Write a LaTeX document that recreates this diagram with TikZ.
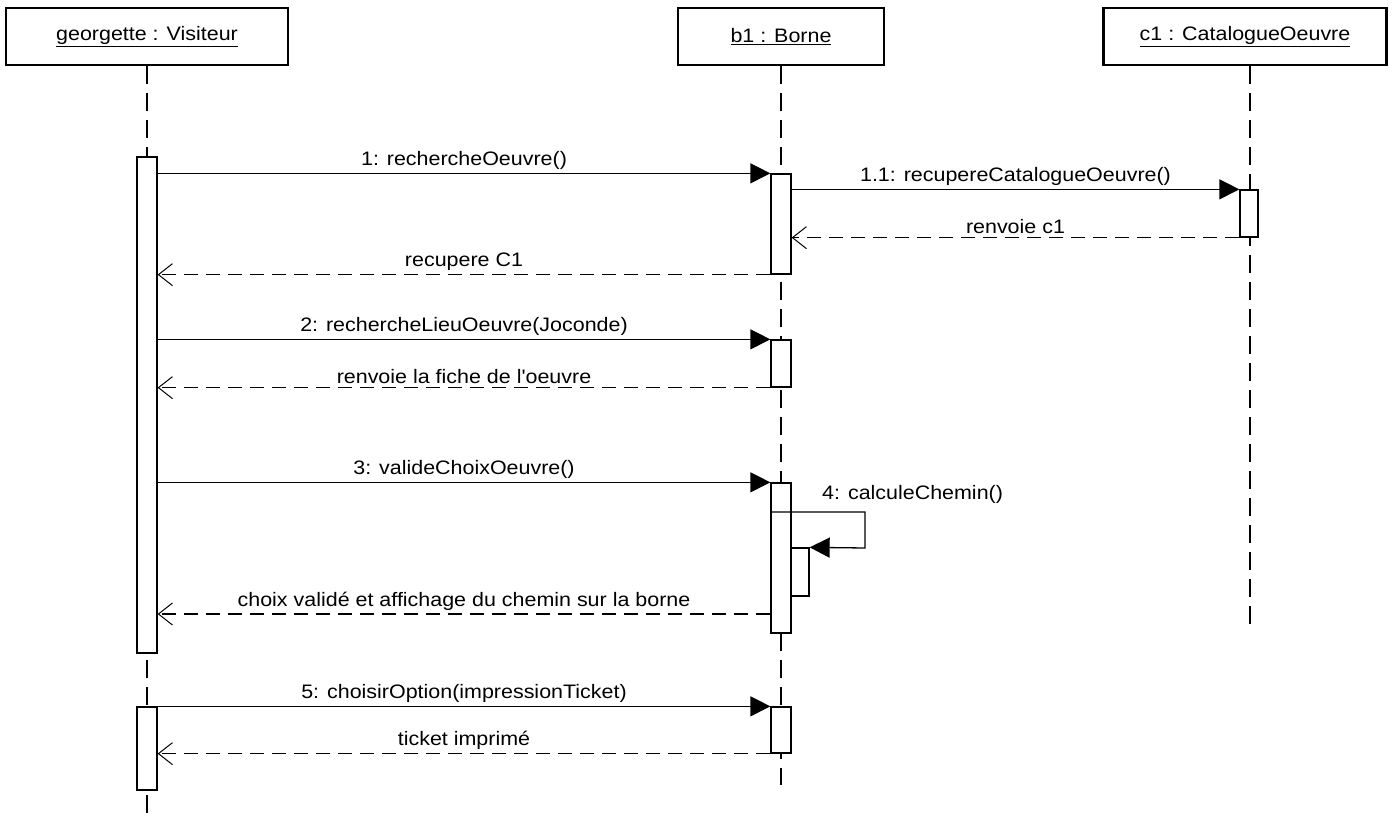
\documentclass[tikz,border=0pt]{standalone}
\usepackage{fontspec}
\newfontfamily\umlfont[FakeStretch=1.1]{Liberation Sans}
\usetikzlibrary{arrows.meta}

\begin{document}
\begin{tikzpicture}[x=1pt,y=-1pt,
        font=\umlfont\fontsize{19.5}{21}\selectfont,
        objeto/.style={draw,line width=2.8pt,minimum width=#1,minimum height=57pt,inner sep=0pt},
        vida/.style={line width=1.3pt,dash pattern=on 18pt off 9pt},
        activ/.style={draw,fill=white,line width=1.3pt,minimum width=20pt,inner sep=0pt,minimum height=#1},
        llamada/.style={line width=1.3pt,-{Triangle[length=20pt,width=20pt]}},
        retorno/.style={line width=1.3pt,dash pattern=on 14pt off 8pt,-{Straight Barb[length=14pt,width=22pt,line width=1pt]}},
        etiq/.style={above=3pt,midway,inner sep=0pt}]
        \useasboundingbox (0,0) rectangle (1395,818);

        \node[objeto=282pt] (hv) at (147,36.5) {\underline{georgette : Visiteur}};
        \node[objeto=206pt] (hb) at (781,36.5) {\underline{b1 : Borne}};
        \node[objeto=283pt] (hc) at (1245,36.5) {\underline{c1 : CatalogueOeuvre}};

        % lineas de vida
        \draw[vida] (hv.south) -- (147,818);
        \draw[vida] (hb.south) -- (781,785);
        \draw[vida] (hc.south -| 1250,0) -- (1250,630);

        % activaciones
        \node[activ=496pt] (av1) at (147,405) {};
        \node[activ=83pt] (av2) at (147,748.5) {};
        \node[activ=100pt] (ab1) at (781,224) {};
        \node[activ=47pt] (ab2) at (781,363.5) {};
        \node[activ=150pt] (ab3) at (781,558) {};
        \node[activ=46pt] (ab4) at (781,730) {};
        \node[activ=48pt,minimum width=18pt] (as1) at (800,572) {};
        \node[activ=47pt,minimum width=18pt] (ac1) at (1249,213.5) {};

        % mensajes
        \draw[llamada] (av1.east |- ab1.north west) -- (ab1.north west)
            node[etiq] {1: rechercheOeuvre()};
        \draw[llamada] (ab1.east |- ac1.north west) -- (ac1.north west)
            node[etiq] {1.1: recupereCatalogueOeuvre()};
        \draw[retorno] (ac1.south west) -- (ab1.east |- ac1.south west)
            node[etiq] {renvoie c1};
        \draw[retorno] (ab1.south west) -- (av1.east |- ab1.south west)
            node[etiq] {recupere C1};

        \draw[llamada] (av1.east |- ab2.north west) -- (ab2.north west)
            node[etiq] {2: rechercheLieuOeuvre(Joconde)};
        \draw[retorno] (ab2.south west) -- (av1.east |- ab2.south west)
            node[etiq] {renvoie la fiche de l'oeuvre};

        \draw[llamada] (av1.east |- ab3.north west) -- (ab3.north west)
            node[etiq] {3: valideChoixOeuvre()};
        \draw[llamada] (ab3.west |- 0,512) -- (865,512) -- (865,548) -- (as1.north east);
        \node[anchor=west,inner sep=0pt] (m4) at (822,494) {4: calculeChemin()};
        \draw[retorno] (ab3.west |- 0,614) -- (av1.east |- 0,614)
            node[etiq] {choix validé et affichage du chemin sur la borne};

        \draw[llamada] (av2.north east) -- (ab4.north west)
            node[etiq] {5: choisirOption(impressionTicket)};
        \draw[retorno] (ab4.south west) -- (av2.east |- ab4.south west)
            node[etiq] {ticket imprimé};
    \end{tikzpicture}
\end{document}
